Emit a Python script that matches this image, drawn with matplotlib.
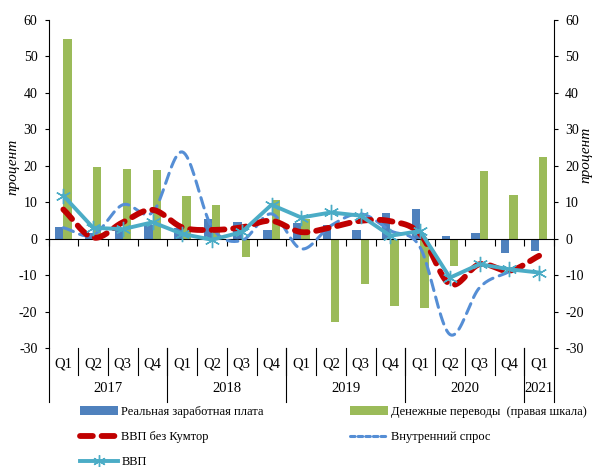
import numpy as np
import matplotlib
matplotlib.use("Agg")
import matplotlib.pyplot as plt
from matplotlib.lines import Line2D
from matplotlib.patches import Patch
import matplotlib.transforms as mtransforms

plt.rcParams['font.family'] = ['Liberation Serif', 'DejaVu Serif']
plt.rcParams['axes.unicode_minus'] = False

quarters = ["Q1", "Q2", "Q3", "Q4"] * 4 + ["Q1"]
years = ["2017", "2018", "2019", "2020", "2021"]
year_sizes = [4, 4, 4, 4, 1]

wages = [3.3, 1.5, 2.8, 3.8, 2.8, 5.4, 4.6, 2.4, 4.3, 3.7, 2.4, 7.0, 8.1, 0.8, 1.5, -3.9, -3.5]
remit = [54.7, 19.7, 19.0, 18.9, 11.6, 9.3, -5.1, 10.5, 5.3, -23.0, -12.5, -18.6, -18.9, -7.4, 18.6, 12.0, 22.3]
gdp_ex = [8.0, 0.3, 4.5, 7.9, 3.1, 2.4, 3.1, 4.9, 1.8, 3.1, 4.9, 4.8, 1.3, -12.5, -7.0, -8.8, -4.7]
demand = [3.0, 1.0, 9.3, 7.2, 23.8, 3.1, -0.5, 6.8, -2.8, 3.6, 6.8, 2.2, -2.4, -26.3, -13.4, -9.0, np.nan]
gdp = [11.8, 3.0, 2.6, 4.5, 1.3, -0.3, 1.8, 9.3, 5.8, 7.2, 6.3, 0.8, 2.1, -10.7, -7.0, -8.4, -9.3]

labels = ["Реальная заработная плата", "Денежные переводы  (правая шкала)",
          "ВВП без Кумтор", "Внутренний спрос", "ВВП"]

C_BLUE = "#4F81BD"
C_GREEN = "#9BBB59"
C_RED = "#C00000"
C_DBLUE = "#558ED5"
C_CYAN = "#4BACC6"


def smooth(xs, ys, n=20):
    xs = np.asarray(xs, float)
    ys = np.asarray(ys, float)
    m = ~np.isnan(ys)
    xs, ys = xs[m], ys[m]
    px = np.concatenate([[2 * xs[0] - xs[1]], xs, [2 * xs[-1] - xs[-2]]])
    py = np.concatenate([[2 * ys[0] - ys[1]], ys, [2 * ys[-1] - ys[-2]]])
    ox, oy = [], []
    t = np.linspace(0, 1, n, endpoint=False)
    for i in range(1, len(px) - 2):
        for arr, out in ((px, ox), (py, oy)):
            p0, p1, p2, p3 = arr[i - 1], arr[i], arr[i + 1], arr[i + 2]
            out.extend(0.5 * ((2 * p1) + (-p0 + p2) * t + (2 * p0 - 5 * p1 + 4 * p2 - p3) * t ** 2
                              + (-p0 + 3 * p1 - 3 * p2 + p3) * t ** 3))
    ox.append(xs[-1]); oy.append(ys[-1])
    return np.array(ox), np.array(oy)


fig = plt.figure(figsize=(5.92, 4.67), dpi=100)
L, R, T, B = 48.5, 554, 20, 348
ax = fig.add_axes([L / 592, 1 - B / 467, (R - L) / 592, (B - T) / 467])
aw, ah = R - L, B - T
x = np.arange(len(quarters))
bw = 0.28
ax.bar(x - bw / 2, wages, bw, color=C_BLUE, zorder=2)
ax.bar(x + bw / 2, remit, bw, color=C_GREEN, zorder=2)

sx, sy = smooth(x, demand)
ax.plot(sx, sy, color=C_DBLUE, lw=2.2, dashes=(3.5, 2.2), dash_capstyle='round', zorder=3)
sx, sy = smooth(x, gdp_ex)
ax.plot(sx, sy, color=C_RED, lw=4.2, dashes=(2.2, 1.5), dash_capstyle='round', zorder=4)
ax.plot(x, gdp, color=C_CYAN, lw=2.8, marker=(6, 2, 0), markersize=11, mew=1.0,
        mec=C_CYAN, zorder=5)

ax.set_xlim(-0.5, len(quarters) - 0.5)
ax.set_ylim(-30, 60)
ax.set_yticks(np.arange(-30, 61, 10))
for s in ['top', 'right']:
    ax.spines[s].set_visible(False)
ax.spines['bottom'].set_position(('data', 0))
ax.spines['bottom'].set_color('black')
ax.spines['left'].set_color('black')
ax.set_xticks(np.arange(-0.5, len(quarters), 1.0))
ax.tick_params(axis='x', direction='out', length=5, labelbottom=False, color='black')
ax.tick_params(axis='y', direction='out', length=3, labelsize=10, pad=5, color='black')
ax.set_ylabel("процент", fontstyle='italic', fontsize=11)
ax.yaxis.label.set_va('center')
ax.yaxis.set_label_coords((13 - L) / aw, (B - 167) / ah)

ax2 = ax.twinx()
ax2.set_ylim(-30, 60)
ax2.set_yticks(np.arange(-30, 61, 10))
for s in ['top', 'left', 'bottom']:
    ax2.spines[s].set_visible(False)
ax2.spines['right'].set_color('black')
ax2.tick_params(axis='y', direction='out', length=3, labelsize=10, pad=5, color='black')
ax2.set_ylabel("процент", fontstyle='italic', fontsize=11, rotation=90)
ax2.yaxis.label.set_va('center')
ax2.yaxis.set_label_coords((586 - L) / aw, (B - 155) / ah)

# multi-level category axis
trans = mtransforms.blended_transform_factory(ax.transData, ax.transAxes)
q_len = 27 / ah
y_len = 54 / ah
for i, q in enumerate(quarters):
    ax.text(i, -16 / ah, q, transform=trans, ha='center', va='center', fontsize=10.5)
for b in range(1, len(quarters)):
    ax.plot([b - 0.5, b - 0.5], [0, -q_len], transform=trans, color='black', lw=0.8, clip_on=False)
start = 0
for yr, n in zip(years, year_sizes):
    ax.text(start + n / 2 - 0.5, -41 / ah, yr, transform=trans, ha='center', va='center', fontsize=10.5)
    start += n
edges = np.concatenate([[0], np.cumsum(year_sizes)]) - 0.5
for e in edges:
    ax.plot([e, e], [0, -y_len], transform=trans, color='black', lw=0.8, clip_on=False)

h_w = Patch(facecolor=C_BLUE)
h_r = Patch(facecolor=C_GREEN)
h_ge = Line2D([], [], color=C_RED, lw=4.2, dashes=(2.2, 1.5), dash_capstyle='round')
h_d = Line2D([], [], color=C_DBLUE, lw=2.2, dashes=(1.5, 1.0), dash_capstyle='round')
h_g = Line2D([], [], color=C_CYAN, lw=2.8, marker=(6, 2, 0), markersize=9, mew=1.0)

kw = dict(frameon=False, fontsize=9, handlelength=3.0, handletextpad=0.3,
          labelspacing=1.05, borderpad=0, borderaxespad=0, loc='upper left')
fig.legend([h_w, h_ge, h_g], [labels[0], labels[2], labels[4]],
           bbox_to_anchor=(80 / 592, 1 - 406 / 467), **kw)
fig.legend([h_r, h_d], [labels[1], labels[3]],
           bbox_to_anchor=(350 / 592, 1 - 406 / 467), **kw)

fig.savefig("out.png", dpi=100)
